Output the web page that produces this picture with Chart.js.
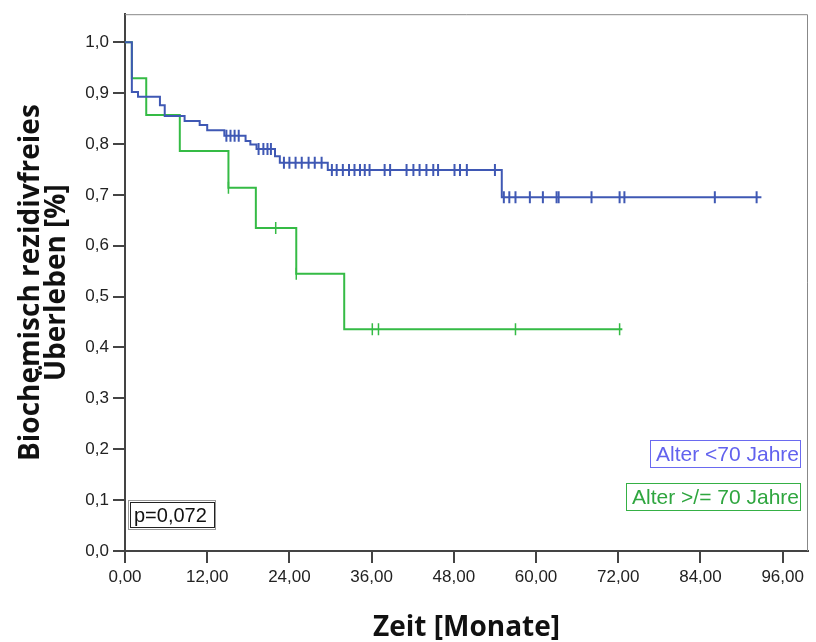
<!DOCTYPE html>
<html>
<head>
<meta charset="utf-8">
<script src="https://cdn.jsdelivr.net/npm/chart.js@4.4.0/dist/chart.umd.min.js"></script>
<style>
  html, body { margin: 0; padding: 0; background: #fff; }
</style>
</head>
<body>
<canvas id="km" width="816" height="642"></canvas>
<script>
// tick values
var xTicks = [0, 12, 24, 36, 48, 60, 72, 84, 96];
var yTicks = [0, 0.1, 0.2, 0.3, 0.4, 0.5, 0.6, 0.7, 0.8, 0.9, 1.0];

// Alter <70 Jahre: event times (months) and survival after each step
var youngTimes = [0, 1.0, 1.9, 5.1, 5.8, 8.7, 10.9, 12.0, 14.5, 17.6, 18.3, 19.2, 21.9, 22.6, 29.6, 55.0];
var youngSurv  = [1.0, 0.902, 0.893, 0.876, 0.855, 0.845, 0.837, 0.827, 0.816, 0.806, 0.799, 0.790, 0.776, 0.763, 0.749, 0.695];
var youngEnd = 92.9;
var youngCensored = [14.8, 15.4, 16.0, 16.6, 19.5, 20.2, 20.8, 21.3,
  23.2, 24.0, 24.9, 25.8, 26.8, 27.7, 28.7,
  30.2, 30.9, 31.8, 32.7, 33.5, 34.3, 35.0, 35.7, 37.9, 38.7,
  41.1, 42.1, 43.0, 44.0, 45.0, 45.7, 48.1, 48.9, 49.9, 54.0,
  55.3, 56.1, 57.0, 59.1, 61.0, 63.0, 63.3, 68.1, 72.2, 72.9, 86.1, 92.2];

// Alter >/= 70 Jahre
var oldTimes = [0, 1.0, 3.1, 8.0, 15.1, 19.1, 25.0, 32.0];
var oldSurv  = [1.0, 0.929, 0.857, 0.786, 0.714, 0.635, 0.545, 0.436];
var oldEnd = 72.6;
var oldCensored = [15.1, 22.0, 25.0, 36.1, 37.0, 57.0, 72.2];

var groupLabels = ["Alter <70 Jahre", "Alter >/= 70 Jahre"];
var pValueText = "p=0,072";

var BLUE = "#3f58b4";
var GREEN = "#35bb45";
var SANS = "'Liberation Sans', Arial, sans-serif";
var TITLE = "'Open Sans', 'Noto Sans', sans-serif";

function curve(times, surv, end) {
  var pts = times.map(function (t, i) { return { x: t, y: surv[i] }; });
  pts.push({ x: end, y: surv[surv.length - 1] });
  return pts;
}
function censorPts(times, surv, cens) {
  return cens.map(function (c) {
    var v = surv[0];
    for (var i = 0; i < times.length; i++) if (times[i] <= c) v = surv[i];
    return { x: c, y: v };
  });
}

// frame, legend boxes and p-value
var extras = {
  id: "extras",
  afterDraw: function (chart) {
    var ctx = chart.ctx, a = chart.chartArea;
    ctx.save();
    ctx.strokeStyle = "#888";
    ctx.lineWidth = 1;
    ctx.beginPath();
    ctx.moveTo(a.left, a.top + 0.5);
    ctx.lineTo(a.right - 0.5, a.top + 0.5);
    ctx.lineTo(a.right - 0.5, a.bottom);
    ctx.stroke();

    ctx.font = "21px " + SANS;
    ctx.textBaseline = "middle";
    ctx.textAlign = "right";
    // legend boxes
    ctx.strokeStyle = "#6a6af0";
    ctx.strokeRect(650.5, 440.5, 150, 27);
    ctx.fillStyle = "#6262ee";
    ctx.fillText(groupLabels[0], 799, 455);
    ctx.strokeStyle = "#35b045";
    ctx.strokeRect(626.5, 483.5, 174, 27);
    ctx.fillStyle = "#2fa63f";
    ctx.fillText(groupLabels[1], 799, 498);

    // p-value box
    ctx.strokeStyle = "#999";
    ctx.strokeRect(128.5, 500.5, 87, 29);
    ctx.strokeStyle = "#222";
    ctx.strokeRect(130.5, 502.5, 84, 25);
    ctx.font = "20px " + SANS;
    ctx.fillStyle = "#111";
    ctx.textAlign = "left";
    ctx.fillText(pValueText, 134, 516);
    ctx.restore();
  }
};

var ctx = document.getElementById("km").getContext("2d");
var chart = new Chart(ctx, {
  type: "line",
  data: {
    datasets: [
      {
        label: groupLabels[0],
        data: curve(youngTimes, youngSurv, youngEnd),
        borderColor: BLUE,
        borderWidth: 2,
        stepped: true,
        pointRadius: 0,
        fill: false
      },
      {
        label: groupLabels[1],
        data: curve(oldTimes, oldSurv, oldEnd),
        borderColor: GREEN,
        borderWidth: 2,
        stepped: true,
        pointRadius: 0,
        fill: false
      },
      {
        label: "censored <70",
        type: "scatter",
        data: censorPts(youngTimes, youngSurv, youngCensored),
        showLine: false,
        pointStyle: "line",
        rotation: 90,
        pointRadius: 6,
        borderColor: BLUE,
        borderWidth: 2
      },
      {
        label: "censored >=70",
        type: "scatter",
        data: censorPts(oldTimes, oldSurv, oldCensored),
        showLine: false,
        pointStyle: "line",
        rotation: 90,
        pointRadius: 6,
        borderColor: GREEN,
        borderWidth: 1.5
      }
    ]
  },
  options: {
    responsive: false,
    animation: false,
    devicePixelRatio: 1,
    layout: { padding: { top: 14, right: 1, left: 0, bottom: 0 } },
    plugins: {
      legend: { display: false },
      tooltip: { enabled: false }
    },
    scales: {
      x: {
        type: "linear",
        min: 0,
        max: 99.7,
        afterFit: function (s) { s.height = 91; },
        afterBuildTicks: function (s) { s.ticks = xTicks.map(function (v) { return { value: v }; }); },
        ticks: {
          font: { family: SANS, size: 17 },
          color: "#222",
          padding: 4,
          maxRotation: 0,
          callback: function (v) { return v.toFixed(2).replace(".", ","); }
        },
        grid: { drawOnChartArea: false, drawTicks: true, tickLength: 12, color: "#444", lineWidth: 2 },
        border: { display: true, color: "#444", width: 2 },
        title: {
          display: true,
          text: "Zeit [Monate]",
          font: { family: TITLE, size: 28, weight: "bold", lineHeight: 1.0 },
          color: "#111",
          padding: { top: 0, bottom: 0 }
        }
      },
      y: {
        type: "linear",
        min: 0,
        max: 1.055,
        afterFit: function (s) { s.width = 125; },
        afterBuildTicks: function (s) { s.ticks = yTicks.map(function (v) { return { value: v }; }); },
        ticks: {
          font: { family: SANS, size: 17 },
          color: "#222",
          padding: 4,
          callback: function (v) { return v.toFixed(1).replace(".", ","); }
        },
        grid: { drawOnChartArea: false, drawTicks: true, tickLength: 12, color: "#444", lineWidth: 2 },
        border: { display: true, color: "#444", width: 2 },
        title: {
          display: true,
          text: ["Biochemisch rezidivfreies", "Überleben [%]"],
          font: { family: TITLE, size: 28, weight: "bold", lineHeight: 0.93 },
          color: "#111",
          padding: { top: 18, bottom: 0 }
        }
      }
    }
  },
  plugins: [extras]
});
</script>
</body>
</html>
